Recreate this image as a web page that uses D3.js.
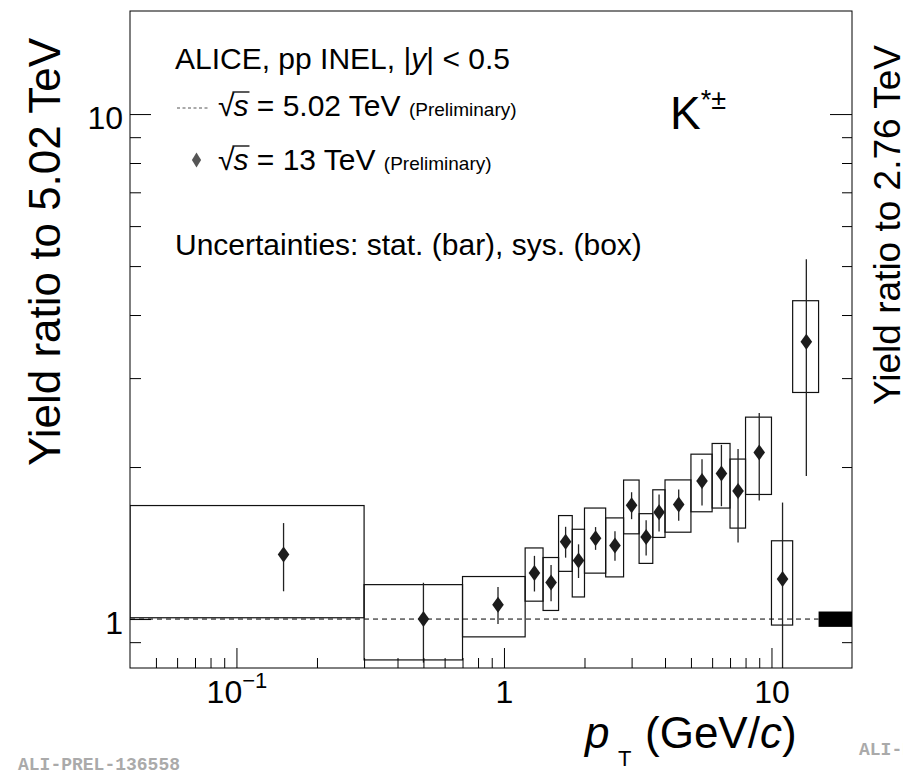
<!DOCTYPE html>
<html>
<head>
<meta charset="utf-8">
<script src="https://cdn.jsdelivr.net/npm/d3@7"></script>
<style>
  html, body { margin: 0; padding: 0; background: #fff; }
  svg { display: block; }
  text { font-family: "Liberation Sans", Arial, Helvetica, sans-serif; fill: #000; }
  text.tag { font-family: "Liberation Mono", "DejaVu Sans Mono", monospace; font-weight: bold; fill: #aaaaaa; }
</style>
</head>
<body>
<svg id="chart" width="903" height="782"></svg>
<script>
// K*± yield ratio, pp 13 TeV over pp 5.02 TeV, |y| < 0.5
const binLow  = [0.0, 0.3, 0.7, 1.2, 1.4, 1.6, 1.8, 2.0, 2.4, 2.8, 3.2, 3.6, 4.0, 5.0, 6.0, 7.0, 8.0, 10.0, 12.0];
const binHigh = [0.3, 0.7, 1.2, 1.4, 1.6, 1.8, 2.0, 2.4, 2.8, 3.2, 3.6, 4.0, 5.0, 6.0, 7.0, 8.0, 10.0, 12.0, 15.0];
const ptCenter = [0.15, 0.5, 0.95, 1.3, 1.5, 1.7, 1.9, 2.2, 2.6, 3.0, 3.4, 3.8, 4.5, 5.5, 6.5, 7.5, 9.0, 11.0, 13.5];
const ratio13  = [1.342, 1.0, 1.068, 1.234, 1.182, 1.423, 1.306, 1.446, 1.399, 1.680, 1.453, 1.627, 1.686, 1.876, 1.943, 1.794, 2.138, 1.201, 3.54];
const statErr  = [0.207, 0.18, 0.09, 0.10, 0.098, 0.10, 0.10, 0.075, 0.094, 0.103, 0.117, 0.137, 0.12, 0.197, 0.27, 0.377, 0.42, 0.50, 1.62];
const sysErr   = [0.336, 0.17, 0.146, 0.149, 0.142, 0.18, 0.20, 0.213, 0.187, 0.205, 0.164, 0.176, 0.20, 0.245, 0.284, 0.28, 0.373, 0.228, 0.73];

// normalisation uncertainty band drawn at unity
const normBandPt = [15, 20];
const normBandY  = [0.965, 1.035];

// axis ranges and ticks
const xRange = [0.04, 20];
const yRange = [0.8, 16];
const xMajorTicks = [0.1, 1, 10];
const xTickBase = ["10", "1", "10"];
const xTickExp  = ["\u22121", "", ""];
const xMinorTicks = [0.05, 0.06, 0.07, 0.08, 0.09, 0.2, 0.3, 0.4, 0.5, 0.6, 0.7, 0.8, 0.9,
                     2, 3, 4, 5, 6, 7, 8, 9];
const yMajorTicks = [1, 10];
const yTickText = ["1", "10"];
const yMinorTicks = [0.9, 2, 3, 4, 5, 6, 7, 8, 9];

const svg = d3.select("#chart");
const M = { left: 130, top: 11, right: 852, bottom: 668 };

const x = d3.scaleLog().domain(xRange).range([M.left, M.right]);
const y = d3.scaleLog().domain(yRange).range([M.bottom, M.top]);
const xc = v => x(Math.max(v, xRange[0]));

svg.append("defs").append("clipPath").attr("id", "plotClip")
  .append("rect").attr("x", M.left).attr("y", M.top)
  .attr("width", M.right - M.left).attr("height", M.bottom - M.top);

const plot = svg.append("g").attr("clip-path", "url(#plotClip)");

// reference line at unity
plot.append("line")
  .attr("x1", x(xRange[0])).attr("x2", x(normBandPt[0]))
  .attr("y1", y(1)).attr("y2", y(1))
  .attr("stroke", "#000").attr("stroke-width", 1)
  .attr("stroke-dasharray", "5,4");

const idx = d3.range(ratio13.length);

// systematic boxes
plot.selectAll("rect.sys").data(idx).join("rect")
  .attr("class", "sys")
  .attr("x", i => xc(binLow[i]))
  .attr("width", i => xc(binHigh[i]) - xc(binLow[i]))
  .attr("y", i => y(ratio13[i] + sysErr[i]))
  .attr("height", i => y(ratio13[i] - sysErr[i]) - y(ratio13[i] + sysErr[i]))
  .attr("fill", "none").attr("stroke", "#111").attr("stroke-width", 1.2);

// statistical bars
plot.selectAll("line.stat").data(idx).join("line")
  .attr("class", "stat")
  .attr("x1", i => x(ptCenter[i])).attr("x2", i => x(ptCenter[i]))
  .attr("y1", i => y(ratio13[i] + statErr[i]))
  .attr("y2", i => y(Math.max(ratio13[i] - statErr[i], yRange[0] * 0.5)))
  .attr("stroke", "#222").attr("stroke-width", 1.3);

// markers
const diamond = (hw, hh) => `M0,${-hh}L${hw},0L0,${hh}L${-hw},0Z`;
plot.selectAll("path.pt").data(idx).join("path")
  .attr("class", "pt")
  .attr("transform", i => `translate(${x(ptCenter[i])},${y(ratio13[i])})`)
  .attr("d", diamond(5.8, 8))
  .attr("fill", "#1c1c1c");

// normalisation band
plot.append("rect")
  .attr("x", x(normBandPt[0])).attr("width", x(normBandPt[1]) - x(normBandPt[0]))
  .attr("y", y(normBandY[1])).attr("height", y(normBandY[0]) - y(normBandY[1]))
  .attr("fill", "#000");

// axes (ticks drawn inward)
function styleAxis(g) {
  g.select(".domain").remove();
  g.selectAll(".tick line").attr("stroke", "#000").attr("stroke-width", 1);
}
const tickFont = 32;

svg.append("g").attr("transform", `translate(0,${M.bottom})`)
  .call(d3.axisBottom(x).tickValues(xMinorTicks).tickSizeInner(-10).tickSizeOuter(0).tickFormat(""))
  .call(styleAxis);
const xMaj = svg.append("g").attr("transform", `translate(0,${M.bottom})`)
  .call(d3.axisBottom(x).tickValues(xMajorTicks).tickSizeInner(-20).tickSizeOuter(0).tickPadding(12).tickFormat(""))
  .call(styleAxis);
xMaj.selectAll(".tick text").each(function (d, i) {
  const t = d3.select(this)
    .attr("font-size", tickFont).attr("font-family", null).attr("fill", "#000")
    .attr("dy", "0.71em").text(xTickBase[i]);
  if (xTickExp[i]) {
    t.append("tspan").attr("font-size", 22).attr("dy", "-0.68em").text(xTickExp[i]);
  }
});

svg.append("g").attr("transform", `translate(${M.left},0)`)
  .call(d3.axisLeft(y).tickValues(yMinorTicks).tickSizeInner(-11).tickSizeOuter(0).tickFormat(""))
  .call(styleAxis);
svg.append("g").attr("transform", `translate(${M.left},0)`)
  .call(d3.axisLeft(y).tickValues(yMajorTicks).tickSizeInner(-21).tickSizeOuter(0).tickPadding(7)
        .tickFormat((d, i) => yTickText[i]))
  .call(styleAxis)
  .selectAll(".tick text")
  .attr("font-size", tickFont).attr("font-family", null).attr("fill", "#000").attr("dy", "0.44em");

svg.append("g").attr("transform", `translate(${M.right},0)`)
  .call(d3.axisRight(y).tickValues(yMinorTicks).tickSizeInner(-10).tickSizeOuter(0).tickFormat(""))
  .call(styleAxis);
svg.append("g").attr("transform", `translate(${M.right},0)`)
  .call(d3.axisRight(y).tickValues(yMajorTicks).tickSizeInner(-22).tickSizeOuter(0).tickFormat(""))
  .call(styleAxis);

// frame
svg.append("rect")
  .attr("x", M.left).attr("y", M.top)
  .attr("width", M.right - M.left).attr("height", M.bottom - M.top)
  .attr("fill", "none").attr("stroke", "#000").attr("stroke-width", 1);

// axis titles
svg.append("text")
  .attr("transform", "translate(60,252) rotate(-90)")
  .attr("text-anchor", "middle").attr("font-size", 44)
  .text("Yield ratio to 5.02 TeV");
svg.append("text")
  .attr("transform", "translate(900,225) rotate(-90)")
  .attr("text-anchor", "middle").attr("font-size", 37)
  .text("Yield ratio to 2.76 TeV");

const xt = svg.append("text").attr("x", 585).attr("y", 748).attr("font-size", 44);
xt.append("tspan").attr("font-style", "italic").text("p");
svg.append("text").attr("x", 618).attr("y", 766).attr("font-size", 22).text("T");
const xt2 = svg.append("text").attr("x", 645).attr("y", 748).attr("font-size", 44);
xt2.append("tspan").text("(GeV/");
xt2.append("tspan").attr("font-style", "italic").text("c");
xt2.append("tspan").text(")");

// header and legend
svg.append("text").attr("x", 175).attr("y", 69).attr("font-size", 30)
  .call(t => {
    t.append("tspan").text("ALICE, pp INEL, |");
    t.append("tspan").attr("font-style", "italic").text("y");
    t.append("tspan").text("| < 0.5");
  });

const legendRows = [
  { energy: "5.02 TeV", base: 116, key: 108, kind: "line" },
  { energy: "13 TeV",   base: 170, key: 160, kind: "marker" }
];
legendRows.forEach(r => {
  if (r.kind === "line") {
    svg.append("line").attr("x1", 177).attr("x2", 208).attr("y1", r.key).attr("y2", r.key)
      .attr("stroke", "#555").attr("stroke-width", 1).attr("stroke-dasharray", "3,2.5");
  } else {
    svg.append("path").attr("transform", `translate(196.5,${r.key})`)
      .attr("d", diamond(4.6, 7.5)).attr("fill", "#555");
  }
  const fs = 30;
  const rad = svg.append("text").attr("x", 218).attr("y", r.base).attr("font-size", fs).text("\u221A");
  const radW = rad.node().getComputedTextLength();
  const sx = 218 + radW - 1;
  const s = svg.append("text").attr("x", sx).attr("y", r.base).attr("font-size", fs)
    .attr("font-style", "italic").text("s");
  const sW = s.node().getComputedTextLength();
  svg.append("line").attr("x1", sx - 1).attr("x2", sx + sW + 1)
    .attr("y1", r.base - 0.80 * fs).attr("y2", r.base - 0.80 * fs)
    .attr("stroke", "#000").attr("stroke-width", 1.3);
  const rest = svg.append("text").attr("x", sx + sW).attr("y", r.base).attr("font-size", fs)
    .text("\u00A0= " + r.energy + "\u00A0");
  const restW = rest.node().getComputedTextLength();
  svg.append("text").attr("x", sx + sW + restW).attr("y", r.base).attr("font-size", 19)
    .text("(Preliminary)");
});

svg.append("text").attr("x", 175).attr("y", 255).attr("font-size", 30)
  .text("Uncertainties: stat. (bar), sys. (box)");

const kt = svg.append("text").attr("x", 670).attr("y", 129).attr("font-size", 46);
kt.append("tspan").text("K");
kt.append("tspan").attr("font-size", 27).attr("dy", -20).text("*\u00B1");

// preliminary figure identifiers
svg.append("text").attr("class", "tag").attr("x", 18).attr("y", 770)
  .attr("font-size", 18).text("ALI-PREL-136558");
svg.append("text").attr("class", "tag").attr("x", 859).attr("y", 755)
  .attr("font-size", 18).text("ALI-PREL-136558");
</script>
</body>
</html>
